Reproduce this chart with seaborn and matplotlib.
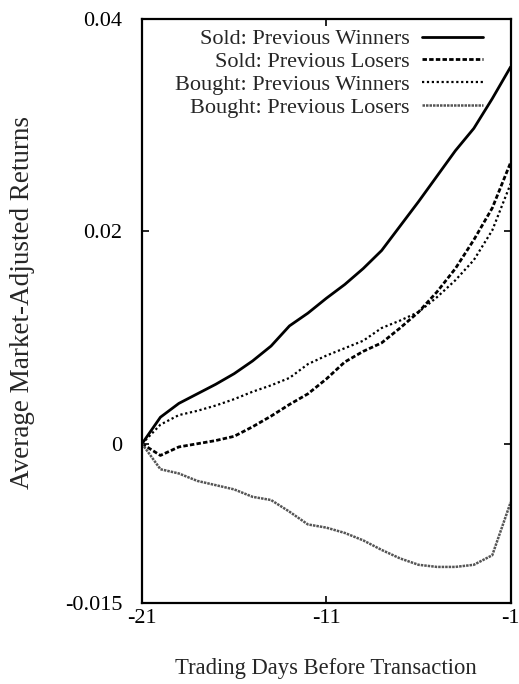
import matplotlib
matplotlib.use("Agg")
import matplotlib.pyplot as plt
import seaborn as sns
import pandas as pd
import numpy as np

days = list(range(-21, 0))
sold_winners = [0, 0.0025, 0.0038, 0.0047, 0.0056, 0.0066, 0.0078, 0.0092, 0.0111, 0.0123,
                0.0137, 0.0150, 0.0165, 0.0182, 0.0205, 0.0228, 0.0252, 0.0276, 0.0297, 0.0325, 0.0355]
sold_losers = [0, -0.0011, -0.0003, 0.0000, 0.0003, 0.0007, 0.0016, 0.0026, 0.0037, 0.0047,
               0.0061, 0.0077, 0.0087, 0.0095, 0.0109, 0.0124, 0.0143, 0.0165, 0.0192, 0.0222, 0.0265]
bought_winners = [0, 0.0018, 0.0027, 0.0031, 0.0036, 0.0042, 0.0049, 0.0055, 0.0062, 0.0075,
                  0.0083, 0.0090, 0.0097, 0.0109, 0.0116, 0.0124, 0.0138, 0.0154, 0.0173, 0.0201, 0.0245]
bought_losers = [0, -0.0024, -0.0028, -0.0035, -0.0039, -0.0043, -0.0050, -0.0053, -0.0064, -0.0076,
                 -0.0079, -0.0084, -0.0091, -0.0100, -0.0108, -0.0114, -0.0116, -0.0116, -0.0114, -0.0105, -0.0055]

series_names = ["Sold: Previous Winners", "Sold: Previous Losers",
                "Bought: Previous Winners", "Bought: Previous Losers"]
series_values = [sold_winners, sold_losers, bought_winners, bought_losers]

x_ticks = [-21, -11, -1]
y_ticks = [0.04, 0.02, 0, -0.015]
y_tick_labels = ["0.04", "0.02", "0", "-0.015"]

sns.set_theme(style="ticks")
plt.rcParams['font.family'] = ['Liberation Serif', 'DejaVu Serif']

fig = plt.figure(figsize=(5.19, 6.84), dpi=100)
ax = fig.add_axes([0.2736, 0.1184, 0.7104, 0.8538])

styles = [
    dict(color="black", linewidth=2.0, linestyle="-"),
    dict(color="black", linewidth=2.0, linestyle=(0, (1.6, 0.8))),
    dict(color="black", linewidth=1.6, linestyle=(0, (1.0, 1.2))),
    dict(color="#555555", linewidth=1.8, linestyle=(0, (1.0, 0.4))),
]

for name, vals, st in zip(series_names, series_values, styles):
    df = pd.DataFrame({"day": days, "ret": vals})
    sns.lineplot(data=df, x="day", y="ret", ax=ax, label=name, **st)

ax.set_xlim(-21, -1)
ax.set_ylim(-0.015, 0.04)
ax.set_xticks(x_ticks)
ax.set_xticklabels([str(t) for t in x_ticks])
ax.set_yticks(y_ticks)
ax.set_yticklabels(y_tick_labels)
ax.tick_params(axis="both", direction="in", length=5, width=1.2, labelsize=16,
               top=True, right=True, colors="black")
ax.tick_params(axis="x", pad=4)
ax.tick_params(axis="y", pad=14)
for sp in ax.spines.values():
    sp.set_linewidth(1.6)
    sp.set_color("black")

ax.set_xlabel("Trading Days Before Transaction", fontsize=16.3)
ax.set_ylabel("Average Market-Adjusted Returns", fontsize=19.5)
ax.xaxis.set_label_coords(0.5, -0.094)
ax.yaxis.set_label_coords(-0.29, 0.514)

leg = ax.legend(loc="upper right", bbox_to_anchor=(0.924, 0.983), frameon=False,
                markerfirst=False, fontsize=16, handlelength=2.75, handletextpad=0.55,
                labelspacing=0.1, borderaxespad=0.0, borderpad=0.0)
leg._legend_box.align = "right"

fig.savefig("out.png", dpi=100)
